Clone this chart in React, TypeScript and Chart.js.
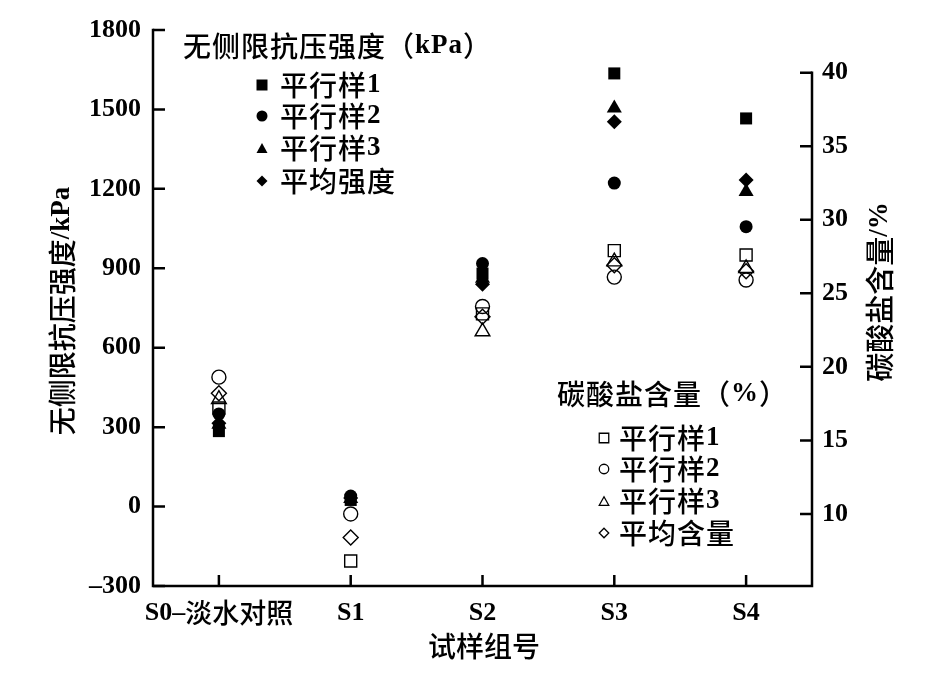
import React, { useEffect, useRef } from 'react';
import { Chart, registerables } from 'chart.js';

Chart.register(...registerables);

// ---- data ----
const categories = ['S0–淡水对照', 'S1', 'S2', 'S3', 'S4'];
const strengthSample1 = [285, 25, 880, 1636, 1466];
const strengthSample2 = [350, 40, 918, 1222, 1057];
const strengthSample3 = [310, 30, 862, 1505, 1189];
const strengthAverage = [315, 32, 840, 1453, 1233];
const carbonateSample1 = [17.2, 6.8, 23.6, 27.9, 27.6];
const carbonateSample2 = [19.3, 10.0, 24.1, 26.1, 25.9];
const carbonateSample3 = [17.8, null, 22.4, 27.15, 26.7];
const carbonateAverage = [18.2, 8.4, 23.4, 26.9, 26.5];
const strengthTicks = [-300, 0, 300, 600, 900, 1200, 1500, 1800];
const carbonateTicks = [10, 15, 20, 25, 30, 35, 40];
const strengthLegendTitle = '无侧限抗压强度（kPa）';
const strengthLegendLabels = ['平行样1', '平行样2', '平行样3', '平均强度'];
const carbonateLegendTitle = '碳酸盐含量（%）';
const carbonateLegendLabels = ['平行样1', '平行样2', '平行样3', '平均含量'];
const xTitle = '试样组号';
const yTitle = '无侧限抗压强度/kPa';
const y2Title = '碳酸盐含量/%';

const LATIN = '"Liberation Serif", serif';
const CJK = '"Noto Sans CJK SC", sans-serif';
const BLACK = '#000';

const toPoints = (arr: (number | null)[]) => arr.map((v, i) => ({ x: i, y: v }));

type Shape = 'rect' | 'circle' | 'triangle' | 'rectRot';
const shapes: Shape[] = ['rect', 'circle', 'triangle', 'rectRot'];

function drawMarker(ctx: CanvasRenderingContext2D, shape: Shape, x: number, y: number, s: number, filled: boolean) {
  ctx.beginPath();
  if (shape === 'rect') {
    ctx.rect(x - s / 2, y - s / 2, s, s);
  } else if (shape === 'circle') {
    ctx.arc(x, y, s / 2, 0, Math.PI * 2);
  } else if (shape === 'triangle') {
    const h = s * 0.9;
    ctx.moveTo(x, y - h / 2);
    ctx.lineTo(x + s / 2, y + h / 2);
    ctx.lineTo(x - s / 2, y + h / 2);
    ctx.closePath();
  } else {
    ctx.moveTo(x, y - s / 2);
    ctx.lineTo(x + s / 2, y);
    ctx.lineTo(x, y + s / 2);
    ctx.lineTo(x - s / 2, y);
    ctx.closePath();
  }
  if (filled) {
    ctx.fillStyle = BLACK;
    ctx.fill();
  } else {
    ctx.lineWidth = 1.3;
    ctx.strokeStyle = BLACK;
    ctx.stroke();
  }
}

// draw text mixing a bold serif for Latin runs and a CJK font for the rest
function mixedText(
  ctx: CanvasRenderingContext2D,
  text: string,
  x: number,
  y: number,
  align: 'left' | 'center',
  latinSize: number,
  cjkSize: number,
  spacing = 0,
) {
  const runs = text.match(/[\u0000-\u00ff\u2013]+|[^\u0000-\u00ff\u2013]+/g) || [];
  const fontFor = (r: string) =>
    /^[\u0000-\u00ff\u2013]/.test(r) ? `bold ${latinSize}px ${LATIN}` : `500 ${cjkSize}px ${CJK}`;
  const anyCtx = ctx as any;
  if ('letterSpacing' in anyCtx) anyCtx.letterSpacing = `${spacing}px`;
  const widths = runs.map((r) => {
    ctx.font = fontFor(r);
    return ctx.measureText(r).width;
  });
  const total = widths.reduce((a, b) => a + b, 0);
  let cx = align === 'center' ? x - total / 2 : x;
  ctx.textAlign = 'left';
  ctx.textBaseline = 'middle';
  runs.forEach((r, i) => {
    ctx.font = fontFor(r);
    ctx.fillText(r, cx, y);
    cx += widths[i];
  });
  if ('letterSpacing' in anyCtx) anyCtx.letterSpacing = '0px';
}

const decorPlugin = {
  id: 'decor',
  afterDraw(chart: any) {
    const { ctx, chartArea } = chart;
    const { left, right, top, bottom } = chartArea;
    const x = chart.scales.x;
    const y = chart.scales.y;
    const y2 = chart.scales.y2;
    ctx.save();
    ctx.strokeStyle = BLACK;
    ctx.lineWidth = 2.5;
    ctx.lineCap = 'square';
    // axis lines
    const y40 = y2.getPixelForValue(carbonateTicks[carbonateTicks.length - 1]);
    ctx.beginPath();
    ctx.moveTo(left, top);
    ctx.lineTo(left, bottom);
    ctx.lineTo(right, bottom);
    ctx.lineTo(right, y40);
    ctx.stroke();
    ctx.lineCap = 'butt';
    // inward ticks
    ctx.beginPath();
    strengthTicks.forEach((v) => {
      const py = y.getPixelForValue(v);
      ctx.moveTo(left, py);
      ctx.lineTo(left + 12, py);
    });
    carbonateTicks.forEach((v) => {
      const py = y2.getPixelForValue(v);
      ctx.moveTo(right, py);
      ctx.lineTo(right - 12, py);
    });
    categories.forEach((_, i) => {
      const px = x.getPixelForValue(i);
      ctx.moveTo(px, bottom);
      ctx.lineTo(px, bottom - 11);
    });
    ctx.stroke();

    ctx.fillStyle = BLACK;
    // category labels
    categories.forEach((c, i) => {
      mixedText(ctx, c, x.getPixelForValue(i), bottom + 27, 'center', 26, 27);
    });

    // axis titles
    mixedText(ctx, xTitle, 484, 646, 'center', 27, 28);
    ctx.save();
    ctx.translate(62, 311);
    ctx.rotate(-Math.PI / 2);
    mixedText(ctx, yTitle, 0, 0, 'center', 27, 28);
    ctx.restore();
    ctx.save();
    ctx.translate(880, 292);
    ctx.rotate(-Math.PI / 2);
    mixedText(ctx, y2Title, 0, 0, 'center', 27, 29);
    ctx.restore();

    // legend 1
    mixedText(ctx, strengthLegendTitle, 183, 46, 'left', 27, 28, 1);
    const rows1 = [85, 116, 148, 181];
    strengthLegendLabels.forEach((lab, i) => {
      drawMarker(ctx, shapes[i], 262, rows1[i], 11, true);
      mixedText(ctx, lab, 280, rows1[i], 'left', 27, 28, 1);
    });
    // legend 2
    mixedText(ctx, carbonateLegendTitle, 557, 394, 'left', 27, 28, 1);
    const rows2 = [438, 469, 501, 533];
    carbonateLegendLabels.forEach((lab, i) => {
      drawMarker(ctx, shapes[i], 604, rows2[i], 9.5, false);
      mixedText(ctx, lab, 619, rows2[i], 'left', 27, 28, 1);
    });
    ctx.restore();
  },
};

const tickFont = { family: LATIN, size: 26, weight: 'bold' };

export default function App() {
  const ref = useRef<HTMLCanvasElement | null>(null);
  useEffect(() => {
    if (!ref.current) return;
    const filled = { backgroundColor: BLACK, borderColor: BLACK, borderWidth: 0 };
    const hollow = { backgroundColor: 'rgba(0,0,0,0)', borderColor: BLACK, borderWidth: 1.4 };
    const chart = new Chart(ref.current, {
      type: 'scatter',
      data: {
        datasets: [
          { label: '平行样1', data: toPoints(strengthSample1), yAxisID: 'y', pointStyle: 'rect', pointRadius: 8.5, ...filled },
          { label: '平行样2', data: toPoints(strengthSample2), yAxisID: 'y', pointStyle: 'circle', pointRadius: 6.5, ...filled },
          { label: '平行样3', data: toPoints(strengthSample3), yAxisID: 'y', pointStyle: 'triangle', pointRadius: 8.7, ...filled },
          { label: '平均强度', data: toPoints(strengthAverage), yAxisID: 'y', pointStyle: 'rectRot', pointRadius: 7.5, ...filled },
          { label: '平行样1 ', data: toPoints(carbonateSample1), yAxisID: 'y2', pointStyle: 'rect', pointRadius: 8.5, ...hollow },
          { label: '平行样2 ', data: toPoints(carbonateSample2), yAxisID: 'y2', pointStyle: 'circle', pointRadius: 7, ...hollow },
          { label: '平行样3 ', data: toPoints(carbonateSample3), yAxisID: 'y2', pointStyle: 'triangle', pointRadius: 8.5, ...hollow },
          { label: '平均含量', data: toPoints(carbonateAverage), yAxisID: 'y2', pointStyle: 'rectRot', pointRadius: 7.5, ...hollow },
        ] as any,
      },
      options: {
        animation: false,
        responsive: true,
        maintainAspectRatio: false,
        layout: { padding: { top: 30, left: 0, right: 0, bottom: 0 } },
        plugins: { legend: { display: false }, tooltip: { enabled: false } },
        scales: {
          x: {
            type: 'linear',
            min: -0.5,
            max: 4.5,
            afterBuildTicks: (s: any) => { s.ticks = categories.map((_, i) => ({ value: i })); },
            afterFit: (s: any) => { s.height = 95; },
            ticks: { display: false },
            grid: { display: false, drawTicks: false },
            border: { display: false },
          },
          y: {
            position: 'left',
            min: -300,
            max: 1800,
            afterBuildTicks: (s: any) => { s.ticks = strengthTicks.map((v) => ({ value: v })); },
            afterFit: (s: any) => { s.width = 153; },
            ticks: {
              callback: (v: any) => (Number(v) < 0 ? '–' + Math.abs(Number(v)) : String(v)),
              font: tickFont,
              color: BLACK,
              padding: 12,
            },
            grid: { display: false, drawTicks: false },
            border: { display: false },
          },
          y2: {
            position: 'right',
            min: 5.1,
            max: 42.9,
            afterBuildTicks: (s: any) => { s.ticks = carbonateTicks.map((v) => ({ value: v })); },
            afterFit: (s: any) => { s.width = 124; },
            ticks: { font: tickFont, color: BLACK, padding: 10 },
            grid: { display: false, drawTicks: false },
            border: { display: false },
          },
        },
      } as any,
      plugins: [decorPlugin],
    });
    return () => chart.destroy();
  }, []);
  return (
    <div style={{ position: 'absolute', left: 0, top: 0, width: 936, height: 681, background: '#fff' }}>
      <canvas ref={ref} />
    </div>
  );
}
